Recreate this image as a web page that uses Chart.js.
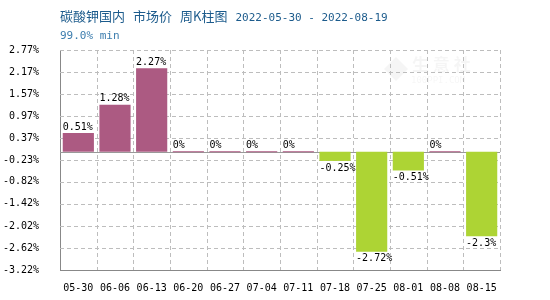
<!DOCTYPE html>
<html>
<head>
<meta charset="utf-8">
<script src="https://cdn.jsdelivr.net/npm/chart.js@4/dist/chart.umd.min.js"></script>
<style>
html,body{margin:0;padding:0;background:#fff;}
#wrap{width:550px;height:300px;position:relative;}
</style>
</head>
<body>
<div id="wrap"><canvas id="c" width="550" height="300"></canvas></div>
<script>
const categories = ['05-30','06-06','06-13','06-20','06-27','07-04','07-11','07-18','07-25','08-01','08-08','08-15'];
const values = [0.51, 1.28, 2.27, 0, 0, 0, 0, -0.25, -2.72, -0.51, 0, -2.3];
const valueLabels = ['0.51%','1.28%','2.27%','0%','0%','0%','0%','-0.25%','-2.72%','-0.51%','0%','-2.3%'];
const yTickLabels = ['2.77%','2.17%','1.57%','0.97%','0.37%','-0.23%','-0.82%','-1.42%','-2.02%','-2.62%','-3.22%'];
const titleText = '碳酸钾国内 市场价 周K柱图';
const dateText = '2022-05-30 - 2022-08-19';
const subtitleText = '99.0% min';

const yTickValues = yTickLabels.map(s => parseFloat(s));
const posColor = '#AC5A82';
const negColor = '#ADD434';
const mono = '"DejaVu Sans Mono", "Liberation Mono", monospace';

const headerPlugin = {
  id: 'header',
  beforeDraw(chart) {
    const ctx = chart.ctx;
    ctx.save();
    // watermark
    ctx.fillStyle = 'rgba(0,0,0,0.04)';
    ctx.font = 'bold 17px "Noto Sans CJK SC"';
    ctx.textAlign = 'left';
    ctx.textBaseline = 'middle';
    ctx.fillText('生 意 社', 412, 65);
    ctx.font = '9px ' + mono;
    ctx.fillText('100PPI.COM', 411, 81);
    ctx.beginPath();
    ctx.moveTo(396, 57); ctx.lineTo(408, 69); ctx.lineTo(396, 81); ctx.lineTo(384, 69); ctx.closePath();
    ctx.fill();
    // title
    ctx.textBaseline = 'alphabetic';
    ctx.fillStyle = '#1C5B8C';
    ctx.font = '13px "Noto Sans CJK SC"';
    let x = 60;
    titleText.split(' ').forEach(part => {
      ctx.fillText(part, x, 21);
      x += ctx.measureText(part).width + 8;
    });
    ctx.font = '11px ' + mono;
    ctx.fillText(dateText, x, 21);
    ctx.fillStyle = '#3C7DAE';
    ctx.font = '11px ' + mono;
    ctx.fillText(subtitleText, 60, 39);
    ctx.restore();
  },
  beforeDatasetsDraw(chart) {
    const ctx = chart.ctx;
    const ca = chart.chartArea;
    const xs = chart.scales.x, ys = chart.scales.y;
    ctx.save();
    ctx.strokeStyle = '#bdbdbd';
    ctx.lineWidth = 1;
    ctx.setLineDash([4, 3]);
    // horizontal dashed grid
    ys.ticks.forEach((t, i) => {
      const y = Math.round(ys.getPixelForTick(i)) + 0.5;
      if (Math.abs(y - ca.bottom) < 2) return;
      ctx.beginPath(); ctx.moveTo(ca.left, y); ctx.lineTo(ca.right, y); ctx.stroke();
    });
    // vertical dashed grid at category boundaries
    const n = categories.length;
    const half = (xs.getPixelForTick(1) - xs.getPixelForTick(0)) / 2;
    for (let i = 0; i <= n; i++) {
      const px = i < n ? xs.getPixelForTick(i) - half : xs.getPixelForTick(n - 1) + half;
      if (Math.abs(px - ca.left) < 2) continue;
      const xx = Math.round(px) + 0.5;
      ctx.beginPath(); ctx.moveTo(xx, ca.top); ctx.lineTo(xx, ca.bottom); ctx.stroke();
    }
    ctx.setLineDash([]);
    // zero line
    const y0 = Math.round(ys.getPixelForValue(0)) + 0.5;
    ctx.strokeStyle = '#999';
    ctx.beginPath(); ctx.moveTo(ca.left, y0); ctx.lineTo(ca.right, y0); ctx.stroke();
    ctx.restore();
  },
  afterDatasetsDraw(chart) {
    const ctx = chart.ctx;
    const meta = chart.getDatasetMeta(0);
    const y0 = chart.scales.y.getPixelForValue(0);
    ctx.save();
    ctx.font = '10px ' + mono;
    ctx.fillStyle = '#000';
    ctx.textAlign = 'left';
    meta.data.forEach((bar, i) => {
      const left = bar.x - bar.width / 2;
      const v = values[i];
      if (v >= 0) {
        ctx.textBaseline = 'bottom';
        ctx.fillText(valueLabels[i], left, Math.min(bar.y, y0) - 1);
      } else {
        ctx.textBaseline = 'top';
        ctx.fillText(valueLabels[i], left, bar.y + 2);
      }
    });
    ctx.restore();
  }
};

new Chart(document.getElementById('c'), {
  type: 'bar',
  data: {
    labels: categories,
    datasets: [{
      data: values,
      backgroundColor: values.map(v => v >= 0 ? posColor : negColor),
      borderWidth: 0,
      minBarLength: 1,
      barPercentage: 0.85,
      categoryPercentage: 1
    }]
  },
  options: {
    responsive: false,
    animation: false,
    layout: { padding: { top: 50, right: 50, left: 0, bottom: 0 } },
    plugins: { legend: { display: false }, tooltip: { enabled: false }, title: { display: false } },
    scales: {
      x: {
        offset: true,
        grid: { display: false, offset: true, drawTicks: false },
        border: { display: true, color: '#888', width: 1 },
        ticks: { color: '#000', font: { family: mono, size: 10 }, padding: 12, maxRotation: 0, autoSkip: false },
        afterFit(s) { s.height = 30; }
      },
      y: {
        min: yTickValues[yTickValues.length - 1],
        max: yTickValues[0],
        afterBuildTicks(s) { s.ticks = yTickValues.slice().reverse().map(v => ({ value: v })); },
        grid: { display: false, drawTicks: false },
        border: { display: true, color: '#888', width: 1 },
        ticks: {
          color: '#000', font: { family: mono, size: 10 }, padding: 21,
          callback(v, i) { return yTickLabels[yTickLabels.length - 1 - i]; }
        },
        afterFit(s) { s.width = 60; }
      }
    }
  },
  plugins: [headerPlugin]
});
</script>
</body>
</html>
